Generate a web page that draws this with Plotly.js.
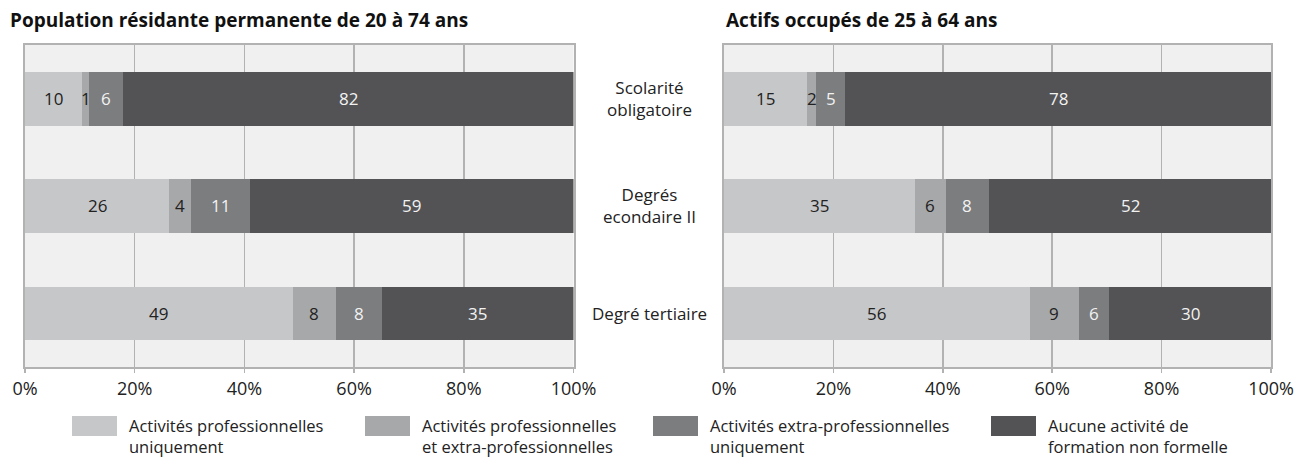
<!DOCTYPE html>
<html>
<head>
<meta charset="utf-8">
<script src="https://cdn.plot.ly/plotly-3.0.1.min.js"></script>
<style>html,body{margin:0;padding:0;background:#fff;}#chart{width:1302px;height:457px;}</style>
</head>
<body>
<div id="chart"></div>
<script>
// ---- Data ----
const categories = ['Scolarité<br>obligatoire', 'Degrés<br>econdaire II', 'Degré tertiaire'];
const seriesNames = [
  'Activités professionnelles<br>uniquement',
  'Activités professionnelles<br>et extra-professionnelles',
  'Activités extra-professionnelles<br>uniquement',
  'Aucune activité de<br>formation non formelle'
];
const panelTitles = ['Population résidante permanente de 20 à 74 ans', 'Actifs occupés de 25 à 64 ans'];

// Left panel: Population résidante permanente de 20 à 74 ans (%)
const leftProf  = [10.4, 26.3, 48.8];
const leftBoth  = [1.3, 4.0, 7.9];
const leftExtra = [6.2, 10.7, 8.3];
const leftNone  = [82.1, 59.0, 35.0];

// Right panel: Actifs occupés de 25 à 64 ans (%)
const rightProf  = [15.1, 34.9, 55.9];
const rightBoth  = [1.8, 5.6, 9.0];
const rightExtra = [5.3, 8.0, 5.5];
const rightNone  = [77.8, 51.5, 29.6];

const xTickVals = [0, 20, 40, 60, 80, 100];
const xTickText = ['0%', '20%', '40%', '60%', '80%', '100%'];

// ---- Styles ----
const colors = ['#c6c7c8', '#a7a8a9', '#7c7d7f', '#535355'];
const textColors = ['#222222', '#222222', '#f2f2f2', '#f2f2f2'];
const FONT = '"Open Sans", "DejaVu Sans", sans-serif';

const panels = [
  {xa: 'x', ya: 'y', series: [leftProf, leftBoth, leftExtra, leftNone]},
  {xa: 'x2', ya: 'y2', series: [rightProf, rightBoth, rightExtra, rightNone]}
];

const traces = [];
const annotations = [];
panels.forEach((p) => {
  const cum = categories.map(() => 0);
  p.series.forEach((vals, si) => {
    traces.push({
      type: 'bar', orientation: 'h',
      x: vals, y: categories,
      xaxis: p.xa, yaxis: p.ya,
      name: seriesNames[si],
      marker: {color: colors[si], line: {width: 0}},
      width: 0.5,
      showlegend: false,
      hoverinfo: 'x+y'
    });
    vals.forEach((v, ci) => {
      annotations.push({
        xref: p.xa, yref: p.ya,
        x: cum[ci] + v / 2, y: categories[ci],
        text: String(Math.round(v)),
        showarrow: false,
        font: {family: FONT, size: 17, color: textColors[si]},
        xanchor: 'center', yanchor: 'middle'
      });
      cum[ci] += v;
    });
  });
});

// Category labels between panels
categories.forEach((c) => {
  annotations.push({
    xref: 'paper', yref: 'y', x: 649 / 1302, y: c,
    text: c, showarrow: false, align: 'center',
    font: {family: FONT, size: 17, color: '#222222'},
    xanchor: 'center', yanchor: 'middle'
  });
});

// Panel titles
[8, 724].forEach((px, i) => {
  annotations.push({
    xref: 'paper', yref: 'paper', x: px / 1302, y: 1 - 20 / 457,
    text: '<b>' + panelTitles[i] + '</b>', showarrow: false,
    xanchor: 'left', yanchor: 'middle',
    font: {family: FONT, size: 19, color: '#111111'}
  });
});

// Custom legend (swatch + wrapped label)
const legendX = [72, 365, 653, 991];
const shapes = [];
seriesNames.forEach((n, i) => {
  shapes.push({
    type: 'rect', xref: 'paper', yref: 'paper',
    x0: legendX[i] / 1302, x1: (legendX[i] + 45) / 1302,
    y0: 1 - 436 / 457, y1: 1 - 416 / 457,
    fillcolor: colors[i], line: {width: 0}
  });
  annotations.push({
    xref: 'paper', yref: 'paper',
    x: (legendX[i] + 55) / 1302, y: 1 - 436 / 457,
    text: n, showarrow: false, align: 'left',
    xanchor: 'left', yanchor: 'middle',
    font: {family: FONT, size: 16.5, color: '#222222'}
  });
});

const axisLine = '#b2b2b2';
const xCommon = {
  range: [0, 100], tickvals: xTickVals, ticktext: xTickText,
  showgrid: true, gridcolor: axisLine, gridwidth: 1.5,
  showline: true, linecolor: axisLine, linewidth: 2, mirror: true,
  ticks: 'outside', ticklen: 4, tickcolor: axisLine, tickwidth: 1.5,
  tickfont: {family: FONT, size: 18, color: '#222222'},
  zeroline: false, fixedrange: true
};
const yCommon = {
  type: 'category', categoryorder: 'array', categoryarray: categories,
  range: [2.5, -0.5],
  showticklabels: false, showgrid: false, zeroline: false,
  showline: true, linecolor: axisLine, linewidth: 2, mirror: true,
  ticks: '', fixedrange: true
};

const yTop = 1 - 45 / 457, yBot = 1 - 367 / 457;
const layout = {
  width: 1302, height: 457,
  margin: {l: 0, r: 0, t: 0, b: 0},
  paper_bgcolor: '#ffffff', plot_bgcolor: '#eff0ef',
  barmode: 'stack', bargap: 0.5,
  showlegend: false,
  xaxis: Object.assign({}, xCommon, {domain: [25 / 1302, 573.5 / 1302], anchor: 'y'}),
  xaxis2: Object.assign({}, xCommon, {domain: [724 / 1302, 1271 / 1302], anchor: 'y2'}),
  yaxis: Object.assign({}, yCommon, {domain: [yBot, yTop], anchor: 'x'}),
  yaxis2: Object.assign({}, yCommon, {domain: [yBot, yTop], anchor: 'x2'}),
  annotations: annotations,
  shapes: shapes,
  font: {family: FONT}
};

Plotly.newPlot('chart', traces, layout, {displayModeBar: false, staticPlot: true});
</script>
</body>
</html>
